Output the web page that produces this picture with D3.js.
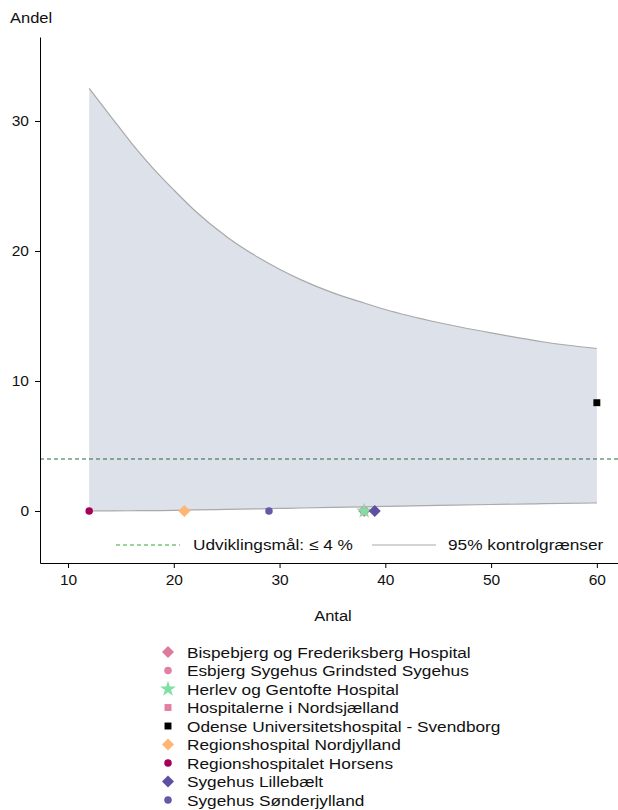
<!DOCTYPE html>
<html>
<head>
<meta charset="utf-8">
<script src="https://cdn.jsdelivr.net/npm/d3@7"></script>
<style>
  body { margin: 0; background: #fff; }
  text { font-family: "Liberation Sans", Arial, sans-serif; fill: #111; }
</style>
</head>
<body>
<div id="chart"></div>
<script>
// hospitals, number of cases and share (%)
var hospitals = ["Bispebjerg og Frederiksberg Hospital", "Esbjerg Sygehus Grindsted Sygehus",
  "Herlev og Gentofte Hospital", "Hospitalerne i Nordsjælland",
  "Odense Universitetshospital - Svendborg", "Regionshospital Nordjylland",
  "Regionshospitalet Horsens", "Sygehus Lillebælt", "Sygehus Sønderjylland"];
var antal = [38, 38, 38, 38, 60, 21, 12, 39, 29];
var andel = [0, 0, 0, 0, 8.33, 0, 0, 0, 0];
var colors = ["#e07a9c", "#e37fa2", "#7fe0a3", "#e37fa2", "#000000", "#ffb574", "#a4005a", "#5d4fa2", "#6458a8"];
var shapes = ["diamond", "circle", "star", "square", "square", "diamond", "circle", "diamond", "circle"];

// 95% control limits
var limitN = [12, 14, 16, 18, 20, 22, 25, 28, 30, 32, 35, 38, 40, 45, 50, 55, 60];
var upperLimit = [32.5, 30.4, 28.3, 26.4, 24.7, 23.1, 21.1, 19.5, 18.6, 17.8, 16.8, 16.0, 15.5, 14.5, 13.7, 13.0, 12.5];
var lowerLimit = [0, 0.01, 0.02, 0.03, 0.05, 0.08, 0.12, 0.17, 0.2, 0.23, 0.28, 0.32, 0.35, 0.43, 0.5, 0.56, 0.62];

var target = 4;
var xTicks = [10, 20, 30, 40, 50, 60];
var yTicks = [0, 10, 20, 30];

var W = 618, H = 810;
var svg = d3.select("#chart").append("svg").attr("width", W).attr("height", H);

var x = d3.scaleLinear().domain([7.35, 62]).range([40, 618]);
var y = d3.scaleLinear().domain([-4, 36.46]).range([563, 37]);

// text helper: the reference type is a little wider than Liberation Sans
function label(g, tx, ty, str, anchor, sx) {
  return g.append("text")
    .attr("transform", "translate(" + tx + "," + ty + ") scale(" + (sx || 1.15) + ",1)")
    .attr("text-anchor", anchor || "start")
    .style("font-size", "15px")
    .text(str);
}

// funnel band
var band = limitN.map(function(n, i) { return {n: n, lo: lowerLimit[i], hi: upperLimit[i]}; });
svg.append("path")
  .datum(band)
  .attr("fill", "#dde1ea")
  .attr("d", d3.area().curve(d3.curveMonotoneX)
    .x(d => x(d.n)).y0(d => y(d.lo)).y1(d => y(d.hi)));

["hi", "lo"].forEach(function(k) {
  svg.append("path")
    .datum(band)
    .attr("fill", "none")
    .attr("stroke", "#a9a9a9")
    .attr("stroke-width", 1.2)
    .attr("d", d3.line().curve(d3.curveMonotoneX).x(d => x(d.n)).y(d => y(d[k])));
});

// target line
svg.append("line")
  .attr("x1", 40).attr("x2", 618)
  .attr("y1", y(target)).attr("y2", y(target))
  .attr("stroke", "#2a6a3c").attr("stroke-width", 1)
  .attr("stroke-dasharray", "4,3");

// axes
var xAxis = svg.append("g")
  .attr("transform", "translate(0,563)")
  .call(d3.axisBottom(x).tickValues(xTicks).tickSize(5).tickPadding(6).tickSizeOuter(0));
var yAxis = svg.append("g")
  .attr("transform", "translate(40,0)")
  .call(d3.axisLeft(y).tickValues(yTicks).tickSize(5).tickPadding(6).tickSizeOuter(0));
[xAxis, yAxis].forEach(function(g) {
  g.select(".domain").attr("stroke", "#000");
  g.selectAll("line").attr("stroke", "#000");
  g.selectAll("text").style("font-size", "15.5px").style("font-family", "Liberation Sans, Arial, sans-serif").attr("fill", "#111");
});

label(svg, 10, 23, "Andel", "start", 1.1);
label(svg, 333, 621, "Antal", "middle", 1.1);

function symbolFor(s) {
  var t = {diamond: d3.symbolSquare, circle: d3.symbolCircle, star: d3.symbolStar, square: d3.symbolSquare}[s];
  var size = {diamond: 72, circle: 44, star: 78, square: 48}[s];
  return d3.symbol().type(t).size(size)();
}
function rot(s) { return s === "diamond" ? " rotate(45)" : ""; }

// points (star drawn above the small pink markers it overlaps)
var pts = hospitals.map(function(h, i) { return {h: h, n: antal[i], v: andel[i], c: colors[i], s: shapes[i]}; });
var drawOrder = [0, 1, 3, 2, 4, 5, 6, 7, 8];
svg.append("g").selectAll("path")
  .data(drawOrder.map(i => pts[i]))
  .enter()
  .append("path")
  .attr("transform", d => "translate(" + x(d.n) + "," + y(d.v) + ")" + rot(d.s))
  .attr("d", d => symbolFor(d.s))
  .attr("fill", d => d.c);

// inner legend
var lg = svg.append("g");
lg.append("line").attr("x1", 116).attr("x2", 180).attr("y1", 545).attr("y2", 545)
  .attr("stroke", "#33a833").attr("stroke-dasharray", "4,3");
label(lg, 193, 550, "Udviklingsmål: ≤ 4 %");
lg.append("line").attr("x1", 372).attr("x2", 436).attr("y1", 545).attr("y2", 545)
  .attr("stroke", "#a9a9a9").attr("stroke-width", 1.2);
label(lg, 448, 550, "95% kontrolgrænser");

// bottom legend
var leg = svg.append("g").selectAll("g")
  .data(pts)
  .enter()
  .append("g")
  .attr("transform", (d, i) => "translate(168," + (652 + i * 18.5) + ")");
leg.append("path")
  .attr("transform", d => rot(d.s))
  .attr("d", d => symbolFor(d.s))
  .attr("fill", d => d.c);
leg.each(function(d) { label(d3.select(this), 19, 5.5, d.h); });
</script>
</body>
</html>
